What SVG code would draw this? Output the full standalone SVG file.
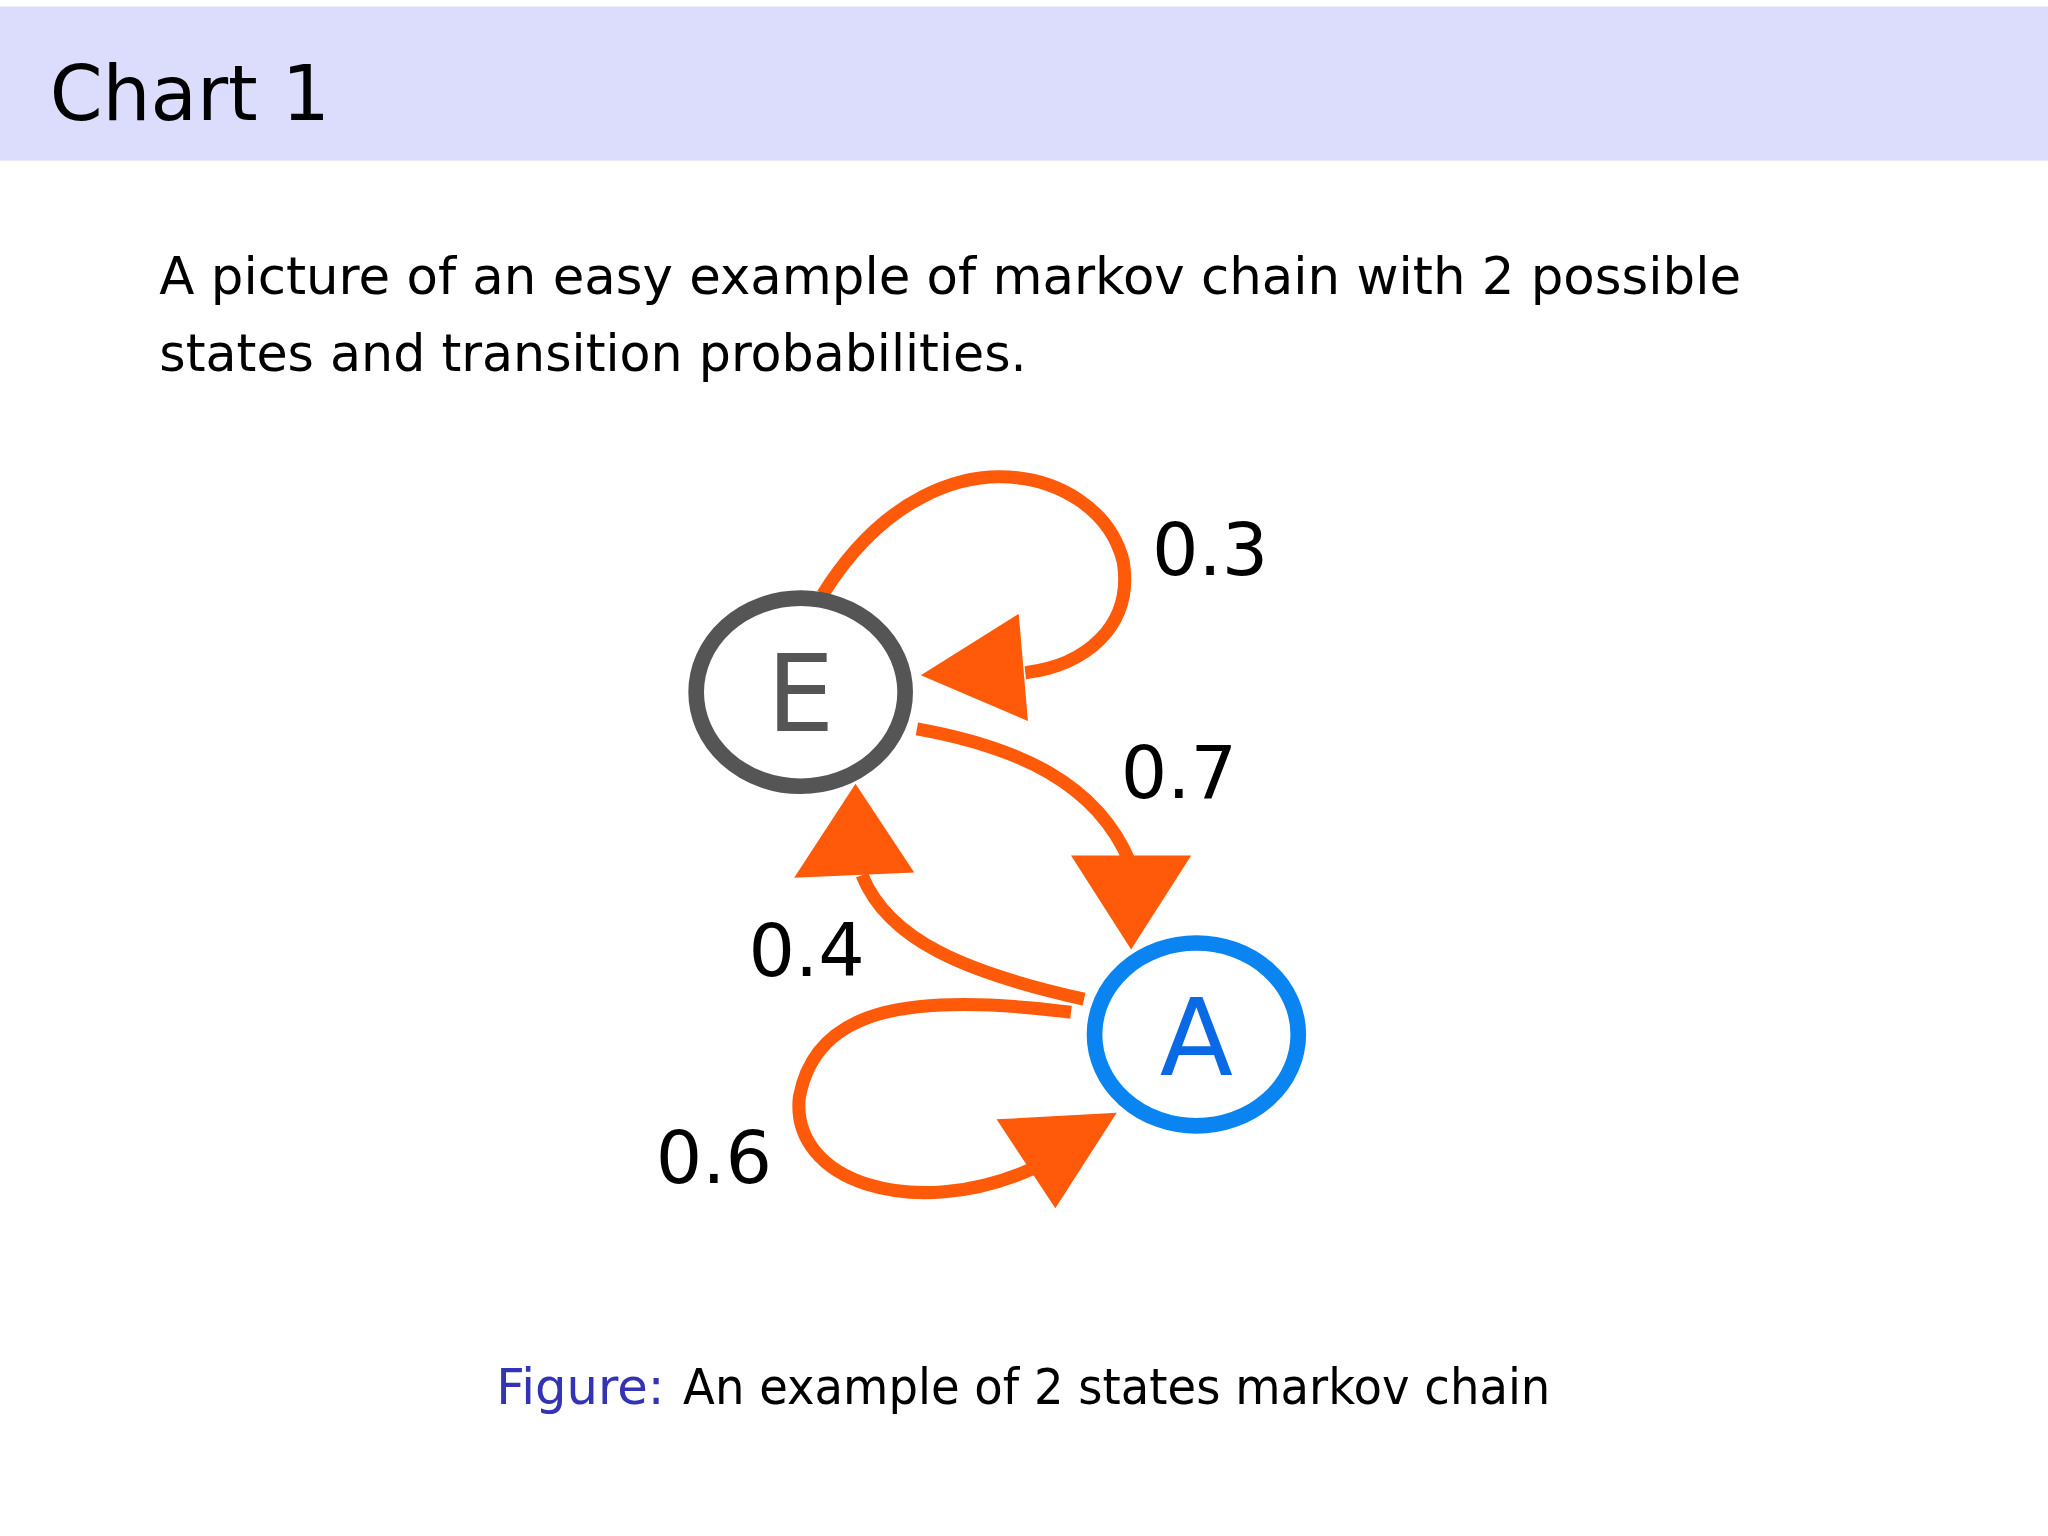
<svg xmlns="http://www.w3.org/2000/svg" width="2048" height="1536" viewBox="0 0 2048 1536">
<style>
.t{font-family:"DejaVu Sans","Liberation Sans",sans-serif;fill:#000}
.e{fill:none;stroke:#ff5a0a;stroke-width:10}
.h{fill:#ff5a0a}
</style>
<rect width="2048" height="1536" fill="#fff"/>
<g transform="scale(1.30612)">
<rect x="0" y="5" width="1568" height="118" fill="#dcdcfc"/>
<text class="t" x="38" y="92" font-size="58" fill="#222">Chart 1</text>
<text class="t" x="122" y="225" font-size="40" textLength="1211" lengthAdjust="spacingAndGlyphs">A picture of an easy example of markov chain with 2 possible</text>
<text class="t" x="122" y="284" font-size="40" textLength="664" lengthAdjust="spacingAndGlyphs">states and transition probabilities.</text>
<g id="connectors">
<path class="e" d="M630,455 C680,375 740,365 765,365 C810,365 850,390 860,430 C868,480 830,510 785,515"/>
<polygon class="h" points="705,517 780,470 787,552"/>
<path class="e" d="M702,558 C780,572 840,600 865,660"/>
<polygon class="h" points="820,655 912,655 866,727"/>
<path class="e" d="M830,765 C740,745 680,720 660,670"/>
<polygon class="h" points="608,672 700,668 655,600"/>
<path class="e" d="M820,775 C700,760 625,770 612,840 C605,905 700,935 790,895"/>
<polygon class="h" points="855,852 763,857 808,925"/>
</g>
<g id="E"><ellipse cx="613" cy="530" rx="80" ry="72" fill="#fff" stroke="#555" stroke-width="12"/>
<text class="t" x="613" y="560" font-size="82" text-anchor="middle" style="fill:#555">E</text></g>
<g id="A"><ellipse cx="916" cy="792" rx="78" ry="70" fill="#fff" stroke="#0a84f0" stroke-width="12"/>
<text class="t" x="916" y="823" font-size="82" text-anchor="middle" style="fill:#0a6ae6">A</text></g>
<text class="t" x="882" y="440" font-size="56">0.3</text>
<text class="t" x="858" y="611" font-size="56">0.7</text>
<text class="t" x="573" y="747" font-size="56">0.4</text>
<text class="t" x="502" y="906" font-size="56">0.6</text>
<text class="t" x="380" y="1075" font-size="38" style="fill:#3333b3">Figure:</text>
<text class="t" x="523" y="1075" font-size="38" textLength="664" lengthAdjust="spacingAndGlyphs">An example of 2 states markov chain</text>
</g>
</svg>
